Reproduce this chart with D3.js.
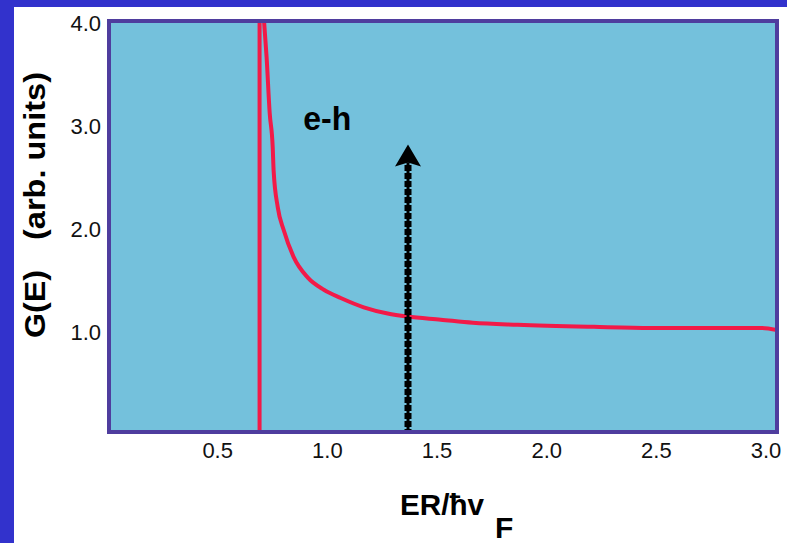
<!DOCTYPE html>
<html>
<head>
<meta charset="utf-8">
<script src="https://cdn.jsdelivr.net/npm/d3@7"></script>
<style>
  body { margin: 0; background: #fff; }
  svg { display: block; }
</style>
</head>
<body>
<div class="chart-container"></div>
<script>
const width = 787, height = 543;

// curve G(E)
var curveE = [0.712, 0.723, 0.737, 0.751, 0.755, 0.774, 0.801, 0.846, 0.910, 0.984, 1.061, 1.166, 1.275, 1.366, 1.517, 1.663, 1.868, 2.215, 2.475, 2.977, 3.05];
var curveG = [4.0, 3.67, 3.13, 2.79, 2.57, 2.21, 1.99, 1.73, 1.53, 1.41, 1.33, 1.24, 1.18, 1.15, 1.12, 1.09, 1.07, 1.05, 1.04, 1.04, 1.02];
// vertical edge of the gap
var gapE = 0.691;
// dashed arrow
var arrowE = 1.366, arrowTop = 2.82;
var xTicks = [0.5, 1.0, 1.5, 2.0, 2.5, 3.0];
var yTicks = [1.0, 2.0, 3.0, 4.0];
var label = "e-h", labelE = 0.89, labelG = 2.96;

var svg = d3.select(".chart-container")
    .append("svg")
    .attr("width", width)
    .attr("height", height);

// blue slide border
svg.append("rect").attr("x", 0).attr("y", 0).attr("width", width).attr("height", 7).attr("fill", "#3232cc");
svg.append("rect").attr("x", 0).attr("y", 0).attr("width", 14).attr("height", height).attr("fill", "#3232cc");

var x = d3.scaleLinear().domain([0, 3.05]).range([108, 777]);
var y = d3.scaleLinear().domain([0, 4]).range([435, 23]);

// plot frame (don't call it "top", that's window.top)
var fLeft = 109, fTop = 21, fRight = 777, fBottom = 432;

svg.append("rect")
    .attr("x", fLeft).attr("y", fTop)
    .attr("width", fRight - fLeft).attr("height", fBottom - fTop)
    .attr("fill", "#74c1dc");

svg.append("clipPath").attr("id", "clip")
    .append("rect").attr("x", fLeft).attr("y", fTop)
    .attr("width", fRight - fLeft).attr("height", fBottom - fTop);

var plot = svg.append("g").attr("clip-path", "url(#clip)");

// vertical line at the gap
plot.append("line")
    .attr("x1", x(gapE)).attr("x2", x(gapE))
    .attr("y1", y(0)).attr("y2", y(4.1))
    .attr("stroke", "#f21a48").attr("stroke-width", 4);

var pts = curveE.map((e, i) => [e, curveG[i]]);
var line = d3.line().x(d => x(d[0])).y(d => y(d[1])).curve(d3.curveMonotoneX);
plot.append("path")
    .attr("d", line([[curveE[0] - 0.003, 4.1]].concat(pts)))
    .attr("fill", "none")
    .attr("stroke", "#f21a48")
    .attr("stroke-width", 4);

// dashed arrow
var ax = Math.round(x(arrowE)), ay = y(arrowTop);
plot.append("line")
    .attr("x1", ax).attr("x2", ax).attr("y1", y(0)).attr("y2", ay + 18)
    .attr("stroke", "#000").attr("stroke-width", 3);
plot.append("line")
    .attr("x1", ax).attr("x2", ax).attr("y1", y(0)).attr("y2", ay + 18)
    .attr("stroke", "#000").attr("stroke-width", 7)
    .attr("stroke-dasharray", "6,2");
plot.append("path")
    .attr("d", "M" + ax + "," + ay + "L" + (ax + 13) + "," + (ay + 22) + "L" + ax + "," + (ay + 18) + "L" + (ax - 13) + "," + (ay + 22) + "Z")
    .attr("fill", "#000");

// frame on top of the marks
svg.append("rect")
    .attr("x", fLeft).attr("y", fTop)
    .attr("width", fRight - fLeft).attr("height", fBottom - fTop)
    .attr("fill", "none")
    .attr("stroke", "#4f3d9e")
    .attr("stroke-width", 4);

svg.append("text")
    .attr("x", x(labelE)).attr("y", y(labelG))
    .attr("font-family", "Liberation Sans, Arial, sans-serif")
    .attr("font-weight", "bold").attr("font-size", 34)
    .attr("textLength", 48).attr("lengthAdjust", "spacingAndGlyphs")
    .text(label);

// tick labels
svg.selectAll(".xt").data(xTicks).enter().append("text")
    .attr("class", "xt")
    .attr("x", d => x(d)).attr("y", 458)
    .attr("text-anchor", "middle")
    .attr("font-family", "Liberation Sans, Arial, sans-serif")
    .attr("font-size", 22).attr("fill", "#111")
    .text(d => d3.format(".1f")(d));

svg.selectAll(".yt").data(yTicks).enter().append("text")
    .attr("class", "yt")
    .attr("x", 101).attr("y", d => y(d) + 8)
    .attr("text-anchor", "end")
    .attr("font-family", "Liberation Sans, Arial, sans-serif")
    .attr("font-size", 22).attr("fill", "#111")
    .text(d => d3.format(".1f")(d));

// axis titles
var yt = svg.append("g").attr("transform", "translate(45,0) rotate(-90)")
    .attr("font-family", "Liberation Sans, Arial, sans-serif")
    .attr("font-weight", "bold").attr("font-size", 30);
yt.append("text").attr("x", -338).attr("y", 0)
    .attr("textLength", 68).attr("lengthAdjust", "spacingAndGlyphs")
    .text("G(E)");
yt.append("text").attr("x", -240).attr("y", 0)
    .attr("textLength", 168).attr("lengthAdjust", "spacingAndGlyphs")
    .text("(arb. units)");

var xt = svg.append("g")
    .attr("font-family", "Liberation Sans, Arial, sans-serif")
    .attr("font-weight", "bold").attr("font-size", 30);
xt.append("text").attr("x", 400).attr("y", 515)
    .attr("textLength", 84).attr("lengthAdjust", "spacingAndGlyphs")
    .text("ER/ħv");
xt.append("text").attr("x", 495).attr("y", 538).text("F");
</script>
</body>
</html>
